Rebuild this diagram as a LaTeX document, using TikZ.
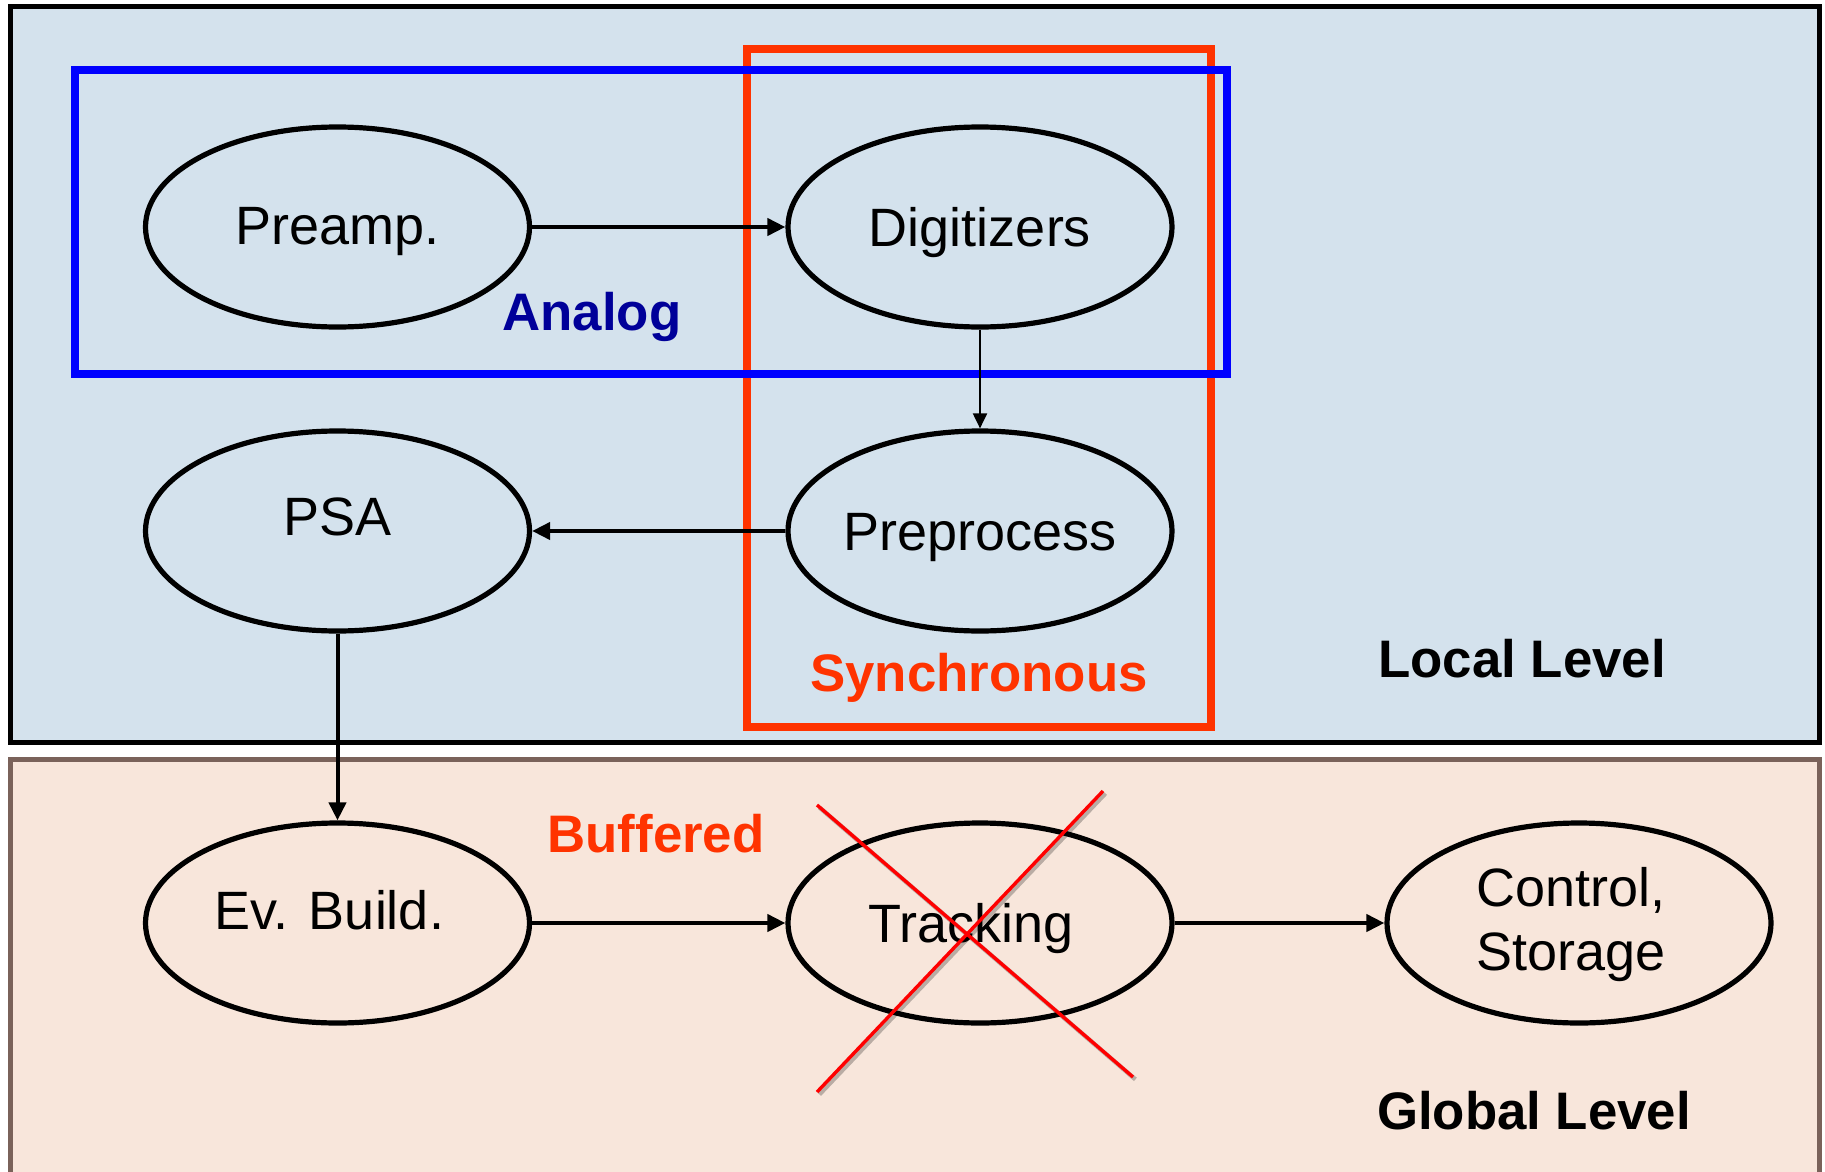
\documentclass[tikz,border=0pt]{standalone}
\usepackage{fontspec}
\setmainfont{Liberation Sans}
\usetikzlibrary{shapes.geometric,arrows.meta}
\definecolor{topfill}{HTML}{D4E2ED}
\definecolor{botfill}{HTML}{F8E6DB}
\definecolor{botdraw}{HTML}{7A625A}
\definecolor{synred}{HTML}{FF3300}
\definecolor{anablue}{HTML}{000099}
\definecolor{boxblue}{HTML}{0000FF}
\tikzset{
  proc/.style={ellipse, draw=black, line width=2.6pt, minimum width=192pt, minimum height=100pt, inner sep=0pt},
  lbl/.style={font=\fontsize{27}{32}\selectfont, inner sep=0pt, text height=19.3pt, text depth=0pt},
  tag/.style={font=\fontsize{26.4}{31}\selectfont\bfseries, inner sep=0pt, text height=18.9pt, text depth=0pt},
  flow/.style={line width=2pt, -{Triangle[length=9pt,width=8.5pt]}},
  thinflow/.style={line width=1pt, -{Triangle[length=7.5pt,width=7pt]}},
  cross/.style={red, line width=1.7pt},
  crossshadow/.style={black, opacity=0.25, line width=2.2pt},
}
\begin{document}
\begin{tikzpicture}[x=0.5pt,y=-0.5pt]
\useasboundingbox (0,0) rectangle (1825,1172);
% level boxes
\draw[fill=topfill, line width=2.5pt] (10.5,6.5) rectangle (1819,742);
\draw[fill=botfill, draw=botdraw, line width=2.5pt] (10,759) rectangle (1819,1185);
% region frames
\draw[synred, line width=4pt] (747,49) rectangle (1211,727);
\draw[boxblue, line width=4pt] (75,70.5) rectangle (1227,374);
% processes
\node[proc, label={[lbl, yshift=0.8pt]center:Preamp.}] (pre) at (337.5,227) {};
\node[proc, label={[lbl]center:Digitizers}] (dig) at (980,227) {};
\node[proc, label={[lbl]center:Preprocess}] (prep) at (980,531) {};
\node[proc, label={[lbl, yshift=7.6pt]center:PSA}] (psa) at (337.5,531) {};
\node[proc, label={[lbl, xshift=-4pt, yshift=6.2pt]center:Ev. Build.}] (evb) at (337.5,923) {};
\node[proc, label={[lbl, xshift=-4.5pt]center:Tracking}] (trk) at (980,923) {};
\node[proc, label={[font=\fontsize{27}{32}\selectfont, inner sep=0pt, align=center, xshift=-4pt, yshift=-0.8pt]center:Control,\\Storage}] (ctl) at (1579,923) {};
% connectors
\draw[flow] (pre) -- (dig);
\draw[thinflow] (dig) -- (prep);
\draw[flow] (prep) -- (psa);
\draw[flow] (psa) -- (evb);
\draw[flow] (evb) -- (trk);
\draw[flow] (trk) -- (ctl);
% tags
\node[tag, text=anablue] (analog) at (592,312) {Analog};
\node[tag, text=synred] (sync) at (979,673) {Synchronous};
\node[tag] (local) at (1522,659) {Local Level};
\node[tag, text=synred] (buf) at (656,834) {Buffered};
\node[tag] (global) at (1534,1111) {Global Level};
% cross over tracking
\coordinate (xa1) at (817,805);
\coordinate (xa2) at (1133,1077);
\coordinate (xb1) at (817,1092);
\coordinate (xb2) at (1103,791);
\draw[crossshadow, transform canvas={xshift=1.2pt, yshift=-1.2pt}] (xa1) -- (xa2);
\draw[crossshadow, transform canvas={xshift=1.2pt, yshift=-1.2pt}] (xb1) -- (xb2);
\draw[cross] (xa1) -- (xa2);
\draw[cross] (xb1) -- (xb2);
\end{tikzpicture}
\end{document}
